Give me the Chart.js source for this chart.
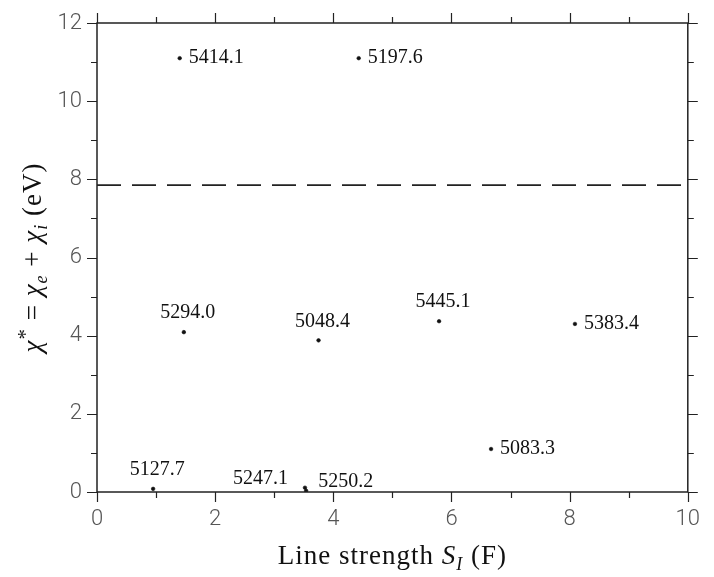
<!DOCTYPE html>
<html lang="en">
<head>
<meta charset="utf-8"/>
<title>Excitation potential vs line strength</title>
<script src="https://cdn.jsdelivr.net/npm/chart.js@4.4.3/dist/chart.umd.min.js"></script>
<style>
  html, body { margin: 0; padding: 0; background: #fff; }
</style>
</head>
<body>
<canvas id="strengthChart" width="714" height="577"></canvas>
<script>
  // Lines: wavelength (A), line strength S_I (F) and chi* = chi_e + chi_i (eV)
  const wavelengths = ['5414.1', '5197.6', '5294.0', '5048.4', '5445.1', '5383.4', '5127.7', '5247.1', '5250.2', '5083.3'];
  const strengths = [1.40, 4.43, 1.47, 3.75, 5.79, 8.09, 0.95, 3.52, 3.54, 6.67];
  const chiStar = [11.1, 11.1, 4.09, 3.88, 4.37, 4.30, 0.08, 0.11, 0.03, 1.10];

  // dashed reference level
  const limitX = [0, 10];
  const limitY = [7.85, 7.85];

  const xTicks = [0, 2, 4, 6, 8, 10];
  const xMinor = [1, 3, 5, 7, 9];
  const yTicks = [0, 2, 4, 6, 8, 10, 12];
  const yMinor = [1, 3, 5, 7, 9, 11];

  // where each wavelength label sits relative to its dot
  const labelSide = ['right', 'right', 'above', 'above', 'above', 'right', 'above', 'upleft', 'upright', 'right'];

  const SERIF = '"Liberation Serif", "DejaVu Serif", serif';

  // draw a run of [text, font, dy] pieces centred on (0,0)
  function drawPieces(ctx, pieces) {
    let w = 0;
    pieces.forEach(p => { ctx.font = p[1]; w += ctx.measureText(p[0]).width; });
    let x = -w / 2;
    pieces.forEach(p => {
      ctx.font = p[1];
      ctx.fillText(p[0], x, p[2] || 0);
      x += ctx.measureText(p[0]).width;
    });
  }

  const frame = {
    id: 'frame',
    afterDraw(chart) {
      const { ctx, chartArea: a, scales: { x, y } } = chart;
      ctx.save();
      ctx.strokeStyle = '#222';
      ctx.lineWidth = 1.5;
      ctx.strokeRect(a.left, a.top, a.right - a.left, a.bottom - a.top);

      // outward ticks on all four sides
      ctx.lineWidth = 1.2;
      const xt = (vals, len) => vals.forEach(v => {
        const px = Math.round(x.getPixelForValue(v)) + 0.5;
        ctx.beginPath();
        ctx.moveTo(px, a.bottom); ctx.lineTo(px, a.bottom + len);
        ctx.moveTo(px, a.top); ctx.lineTo(px, a.top - len);
        ctx.stroke();
      });
      const yt = (vals, len) => vals.forEach(v => {
        const py = Math.round(y.getPixelForValue(v)) + 0.5;
        ctx.beginPath();
        ctx.moveTo(a.left, py); ctx.lineTo(a.left - len, py);
        ctx.moveTo(a.right, py); ctx.lineTo(a.right + len, py);
        ctx.stroke();
      });
      xt(xTicks, 10); xt(xMinor, 6);
      yt(yTicks, 10); yt(yMinor, 6);

      // wavelength labels
      ctx.fillStyle = '#111';
      ctx.font = '20px ' + SERIF;
      ctx.textBaseline = 'middle';
      const pts = chart.getDatasetMeta(0).data;
      pts.forEach((pt, i) => {
        const side = labelSide[i];
        if (side === 'right') { ctx.textAlign = 'left'; ctx.fillText(wavelengths[i], pt.x + 9, pt.y); }
        else if (side === 'above') { ctx.textAlign = 'center'; ctx.fillText(wavelengths[i], pt.x + 4, pt.y - 19); }
        else if (side === 'upleft') { ctx.textAlign = 'right'; ctx.fillText(wavelengths[i], pt.x - 17, pt.y - 9); }
        else { ctx.textAlign = 'left'; ctx.fillText(wavelengths[i], pt.x + 12, pt.y - 9); }
      });

      // axis titles
      ctx.textAlign = 'left';
      ctx.textBaseline = 'alphabetic';
      ctx.letterSpacing = '1px';
      const rm = '27px ' + SERIF, it = 'italic 27px ' + SERIF, sub = 'italic 18px ' + SERIF;
      ctx.save();
      ctx.translate((a.left + a.right) / 2, 564);
      drawPieces(ctx, [['Line strength ', rm], ['S', it], ['I', sub, 6], [' (F)', rm]]);
      ctx.restore();

      ctx.save();
      ctx.translate(41, (a.top + a.bottom) / 2);
      ctx.rotate(-Math.PI / 2);
      drawPieces(ctx, [
        ['χ', it], ['*', '21px ' + SERIF, -9], [' = ', rm],
        ['χ', it], ['e', sub, 6], [' + ', rm],
        ['χ', it], ['i', sub, 6], [' (eV)', rm]
      ]);
      ctx.restore();
      ctx.restore();
    }
  };

  const SANS = 'Roboto, "DejaVu Sans", sans-serif';

  new Chart(document.getElementById('strengthChart'), {
    type: 'scatter',
    data: {
      datasets: [
        {
          label: 'Lines',
          data: strengths.map((s, i) => ({ x: s, y: chiStar[i] })),
          pointRadius: 1.8,
          backgroundColor: '#111',
          borderColor: '#111',
          borderWidth: 0.6,
        },
        {
          type: 'line',
          label: 'Limit',
          data: limitX.map((v, i) => ({ x: v, y: limitY[i] })),
          borderColor: '#222',
          borderWidth: 1.8,
          borderDash: [24, 11],
          pointRadius: 0,
          fill: false,
        },
      ],
    },
    options: {
      responsive: false,
      animation: false,
      layout: { padding: { top: 23, right: 25, bottom: 0, left: 0 } },
      plugins: { legend: { display: false }, tooltip: { enabled: false } },
      scales: {
        x: {
          type: 'linear', min: 0, max: 10,
          afterBuildTicks: s => { s.ticks = xTicks.map(v => ({ value: v })); },
          afterFit: s => { s.height = 85; },
          grid: { display: false, drawTicks: false },
          border: { display: false },
          ticks: { font: { family: SANS, size: 22, weight: 300 }, color: '#555', padding: 14 },
        },
        y: {
          type: 'linear', min: 0, max: 12,
          afterBuildTicks: s => { s.ticks = yTicks.map(v => ({ value: v })); },
          afterFit: s => { s.width = 97; },
          grid: { display: false, drawTicks: false },
          border: { display: false },
          // small line height keeps the top label from pushing the plot down
          ticks: { font: { family: SANS, size: 22, weight: 300, lineHeight: 0.6 }, color: '#555', padding: 15 },
        },
      },
    },
    plugins: [frame],
  });
</script>
</body>
</html>
